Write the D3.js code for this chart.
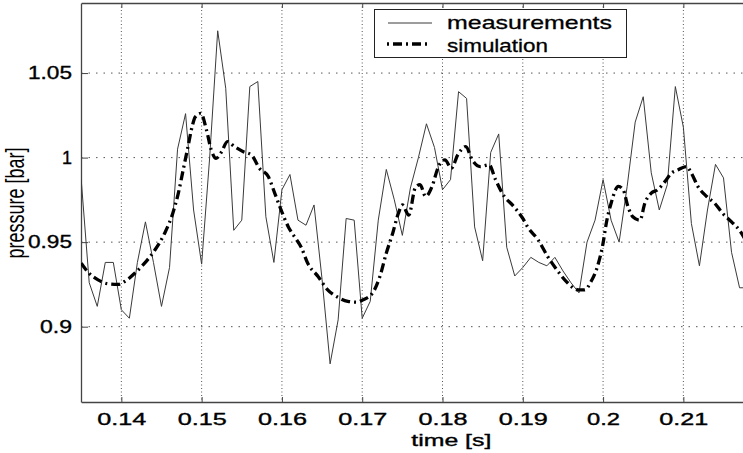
<!DOCTYPE html>
<html><head><meta charset="utf-8">
<script src="https://cdn.jsdelivr.net/npm/d3@7"></script>
<style>html,body{margin:0;padding:0;background:#fff;overflow:hidden}</style>
</head><body>
<svg id="chart" width="743" height="453"></svg>
<script>
const measTime = [0.135,0.136,0.137,0.138,0.139,0.140,0.141,0.142,0.143,0.144,0.145,0.146,0.147,0.148,0.149,
0.150,0.151,0.152,0.153,0.154,0.155,0.156,0.157,0.158,0.159,0.160,0.161,0.162,0.163,0.164,0.165,0.166,0.167,0.168,0.169,
0.170,0.171,0.172,0.173,0.174,0.175,0.176,0.177,0.178,0.179,0.180,0.181,0.182,0.183,0.184,0.185,0.186,0.187,0.188,0.189,
0.190,0.191,0.192,0.193,0.194,0.195,0.196,0.197,0.198,0.199,0.200,0.201,0.202,0.203,0.204,0.205,0.206,0.207,0.208,0.209,
0.210,0.211,0.212,0.213,0.214,0.215,0.216,0.217,0.218];
const measValue = [0.987,0.926,0.912,0.938,0.938,0.910,0.905,0.938,0.962,0.938,0.912,0.935,1.005,1.026,0.969,
0.937,1.000,1.075,1.041,0.957,0.963,1.042,1.045,0.965,0.938,0.981,0.990,0.963,0.960,0.972,0.928,0.878,0.904,0.964,0.963,
0.905,0.915,0.963,0.993,0.975,0.954,0.982,1.000,1.020,1.006,0.981,0.987,1.039,1.035,0.959,0.939,1.003,1.014,0.947,0.930,
0.935,0.941,0.938,0.936,0.941,0.933,0.926,0.920,0.950,0.963,0.987,0.963,0.950,0.983,1.021,1.036,0.991,0.969,0.984,1.042,
1.018,0.961,0.936,0.969,0.996,0.988,0.944,0.923,0.923];

const simTime = [0.1350,0.1359,0.1371,0.1383,0.1396,0.1404,0.1417,0.1429,0.1442,0.1454,0.1464,0.1471,0.1477,0.1483,0.1488,
0.1492,0.1499,0.1506,0.1512,0.1518,0.1525,0.1532,0.1541,0.1552,0.1562,0.1572,0.1583,0.1591,0.1599,0.1608,0.1616,0.1624,
0.1632,0.1645,0.1657,0.1670,0.1682,0.1693,0.1701,0.1713,0.1722,0.1730,0.1738,0.1745,0.1750,0.1758,0.1766,0.1772,0.1779,
0.1787,0.1795,0.1803,0.1811,0.1819,0.1829,0.1837,0.1847,0.1858,0.1866,0.1877,0.1887,0.1900,0.1906,0.1919,0.1931,0.1944,
0.1956,0.1969,0.1977,0.1985,0.1993,0.2000,0.2004,0.2010,0.2019,0.2025,0.2031,0.2037,0.2046,0.2052,0.2060,0.2068,0.2077,
0.2085,0.2093,0.2104,0.2110,0.2118,0.2129,0.2139,0.2149,0.2160,0.2170,0.2180];
const simValue = [0.9376,0.932,0.9277,0.9254,0.925,0.9267,0.9317,0.9376,0.9455,0.9553,0.967,0.979,0.9927,1.0065,1.018,
1.024,1.0262,1.0164,1.0045,0.9996,1.0035,1.0095,1.0065,1.0035,1.0016,0.9937,0.9888,0.979,0.969,0.959,0.953,0.947,
0.9376,0.9297,0.9218,0.9173,0.915,0.9145,0.9159,0.920,0.9297,0.9435,0.9553,0.967,0.972,0.966,0.982,0.984,0.977,
0.983,0.9947,0.9986,0.9937,1.0016,1.0065,0.9986,0.9947,0.9957,0.987,0.977,0.972,0.964,0.959,0.9514,0.9415,0.9326,
0.9258,0.9218,0.9218,0.9267,0.9356,0.9494,0.9612,0.973,0.983,0.981,0.971,0.965,0.963,0.973,0.979,0.981,0.9858,
0.9908,0.9927,0.9947,0.9908,0.983,0.977,0.973,0.967,0.962,0.957,0.949];

const xTicks = [0.14,0.15,0.16,0.17,0.18,0.19,0.20,0.21];
const xTickLabels = ["0.14","0.15","0.16","0.17","0.18","0.19","0.2","0.21"];
const yTicks = [0.9,0.95,1.0,1.05];
const yTickLabels = ["0.9","0.95","1","1.05"];
const seriesNames = ["measurements","simulation"];
const xTitle = "time [s]";
const yTitle = "pressure [bar]";

const svg = d3.select("#chart");
const L = 81, T = 3, B = 402;
const x = d3.scaleLinear().domain([0.135, 0.218]).range([81.2, 747.6]);
const y = d3.scaleLinear().domain([0.85545, 1.09144]).range([B, T]);
const R = x(0.218);
const FONT = "Liberation Sans, Arial, sans-serif";

svg.append("defs").append("clipPath").attr("id","clip")
  .append("rect").attr("x",L).attr("y",T).attr("width",R-L).attr("height",B-T);

// grid
const grid = svg.append("g");
grid.selectAll(".vg").data(xTicks).join("line")
  .attr("x1",d=>x(d)).attr("x2",d=>x(d)).attr("y1",T).attr("y2",B)
  .attr("stroke","#555").attr("stroke-width",1).attr("stroke-dasharray","1,2.5");
grid.selectAll(".hg").data(yTicks).join("line")
  .attr("x1",L).attr("x2",R).attr("y1",d=>y(d)).attr("y2",d=>y(d))
  .attr("stroke","#555").attr("stroke-width",1).attr("stroke-dasharray","1.5,6");

// axes
const fmtX = (d,i)=>xTickLabels[i];
const fmtY = (d,i)=>yTickLabels[i];
const xAxis = svg.append("g").attr("transform",`translate(0,${B})`)
  .call(d3.axisBottom(x).tickValues(xTicks).tickFormat(fmtX).tickSizeInner(-5).tickSizeOuter(0).tickPadding(12));
const xAxisTop = svg.append("g").attr("transform",`translate(0,${T})`)
  .call(d3.axisTop(x).tickValues(xTicks).tickFormat("").tickSizeInner(-5).tickSizeOuter(0));
const yAxis = svg.append("g").attr("transform",`translate(${L},0)`)
  .call(d3.axisLeft(y).tickValues(yTicks).tickFormat(fmtY).tickSizeInner(-7).tickSizeOuter(0).tickPadding(9));
[xAxis,xAxisTop,yAxis].forEach(g=>{
  g.select(".domain").attr("stroke","#444").attr("stroke-width",1.3);
  g.selectAll(".tick line").attr("stroke","#444");
});
xAxis.selectAll(".tick text").attr("font-family",FONT)
  .attr("font-size",16).attr("fill","#000").attr("stroke","#000").attr("stroke-width",0.35).attr("dy","0.71em")
  .attr("textLength",d=> (d===0.2?33:49)).attr("lengthAdjust","spacingAndGlyphs");
yAxis.selectAll(".tick text").attr("font-family",FONT)
  .attr("font-size",18).attr("fill","#000").attr("stroke","#000").attr("stroke-width",0.35)
  .attr("textLength",(d,i)=>[32,44,10,44][i]).attr("lengthAdjust","spacingAndGlyphs");

// lines
const plot = svg.append("g").attr("clip-path","url(#clip)");
const meas = measTime.map((t,i)=>[t,measValue[i]]);
const sim = simTime.map((t,i)=>[t,simValue[i]]);
const line = d3.line().x(d=>x(d[0])).y(d=>y(d[1]));
plot.append("path").datum(meas).attr("d",line).attr("fill","none")
  .attr("stroke","#3a3a3a").attr("stroke-width",1);
const simLine = d3.line().curve(d3.curveMonotoneX).x(d=>x(d[0])).y(d=>y(d[1]));
plot.append("path").datum(sim).attr("d",simLine).attr("fill","none")
  .attr("stroke","#000").attr("stroke-width",3.3).attr("stroke-dasharray","9,4,2,4");

// titles
svg.append("text").attr("x",(L+R)/2+37).attr("y",446).attr("text-anchor","middle")
  .attr("font-family",FONT).attr("font-size",16).attr("fill","#000").attr("stroke","#000").attr("stroke-width",0.35)
  .attr("textLength",80).attr("lengthAdjust","spacingAndGlyphs").text(xTitle);
svg.append("text").attr("transform","translate(24,203) scale(1.45,1) rotate(-90)")
  .attr("text-anchor","middle")
  .attr("font-family",FONT).attr("font-size",18).attr("fill","#000")
  .text(yTitle);

// legend
const lg = svg.append("g");
lg.append("rect").attr("x",374.5).attr("y",9.5).attr("width",252).attr("height",48)
  .attr("fill","#fff").attr("stroke","#222").attr("stroke-width",1);
lg.append("line").attr("x1",388).attr("x2",432).attr("y1",23).attr("y2",23)
  .attr("stroke","#3a3a3a").attr("stroke-width",1);
lg.append("line").attr("x1",387).attr("x2",427).attr("y1",44).attr("y2",44)
  .attr("stroke","#000").attr("stroke-width",3.3).attr("stroke-dasharray","2,4,9,4");
lg.selectAll(".lt").data(seriesNames).join("text")
  .attr("x",447).attr("y",(d,i)=>28.5+i*23)
  .attr("font-family",FONT).attr("font-size",19).attr("fill","#000").attr("stroke","#000").attr("stroke-width",0.3)
  .attr("textLength",(d,i)=>[165,101][i]).attr("lengthAdjust","spacingAndGlyphs")
  .text(d=>d);
</script>
</body></html>
